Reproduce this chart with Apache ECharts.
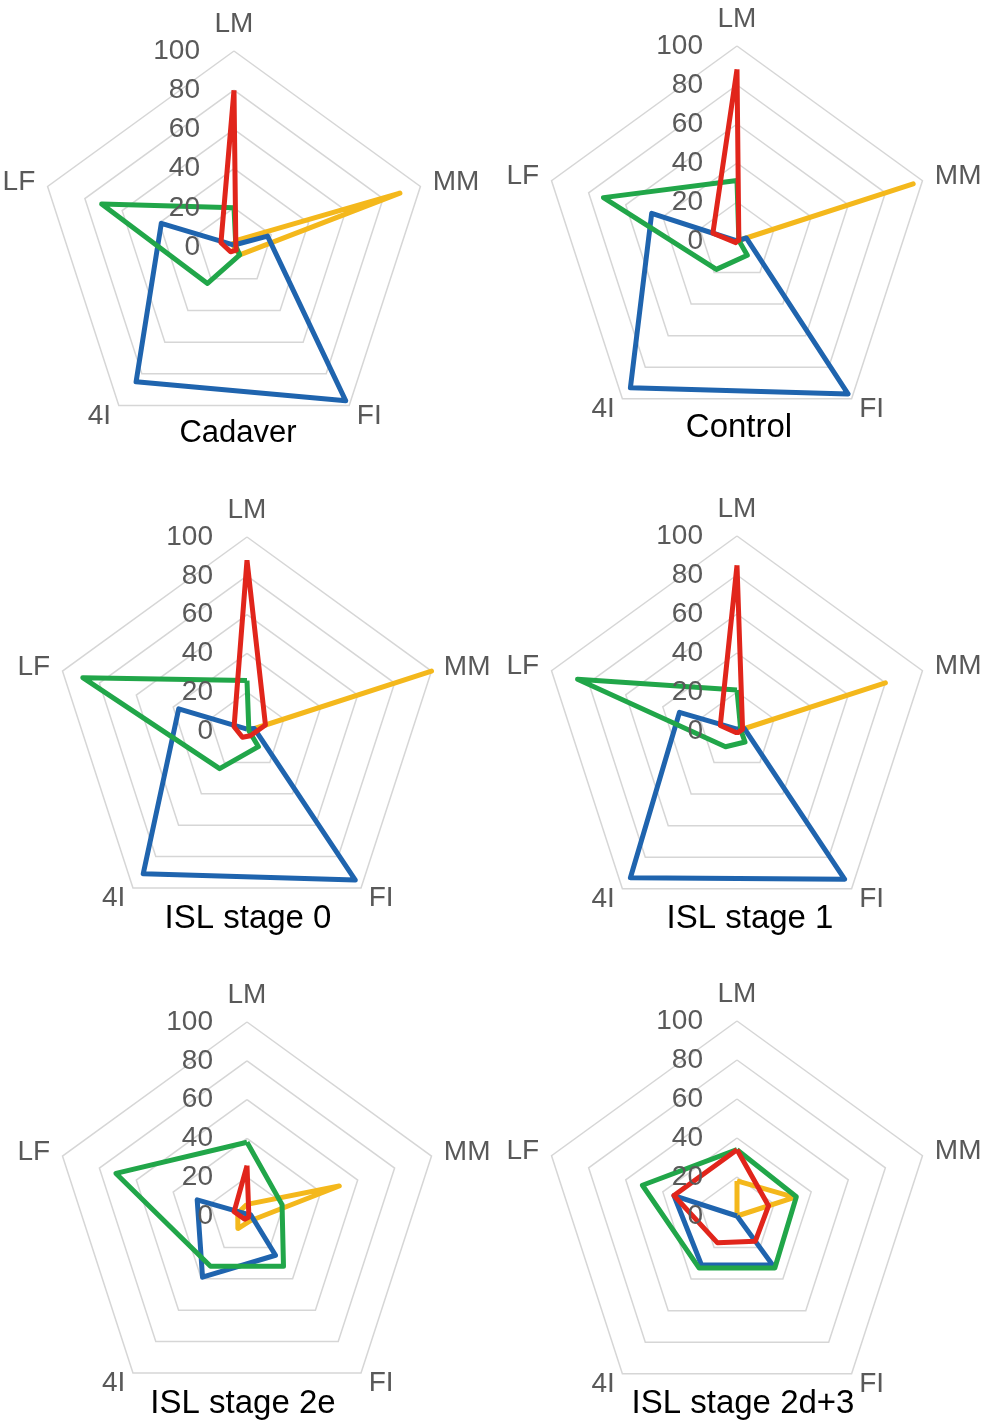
<!DOCTYPE html>
<html>
<head>
<meta charset="utf-8">
<script src="https://cdn.jsdelivr.net/npm/echarts@6/dist/echarts.min.js"></script>
<style>
html,body{margin:0;padding:0;background:#fff;}
#chart{width:983px;height:1424px;}
</style>
</head>
<body>
<div id="chart"></div>
<script>
// Indicator order (counter-clockwise from top, as ECharts lays them out)
const indicatorNames = ['LM', 'LF', '4I', 'FI', 'MM'];
const tickLabels = ['0', '20', '40', '60', '80', '100'];
const panelTitles = ['Cadaver', 'Control', 'ISL stage 0', 'ISL stage 1', 'ISL stage 2e', 'ISL stage 2d+3'];

// Values per panel, in indicator order [LM, LF, 4I, FI, MM]
const redValues = [
  [80, 7, 3, 2, 1],
  [88, 13, 1, 0, 1],
  [88, 7, 4, 3, 10],
  [85, 9, 1, 1, 3],
  [26, 7, 2, 1, 1],
  [34, 34, 17, 16, 17]
];
const yellowValues = [
  [3, 0, 0, 5, 89],
  [0, 0, 0, 0, 95],
  [0, 0, 0, 0, 100],
  [0, 0, 0, 0, 80],
  [6, 5, 8, 3, 50],
  [18, 0, 0, 0, 31]
];
const greenValues = [
  [20, 71, 23, 5, 1],
  [31, 72, 18, 9, 1],
  [26, 89, 24, 10, 1],
  [21, 86, 10, 7, 2],
  [38, 71, 32, 32, 19],
  [34, 51, 33, 33, 32]
];
const blueValues = [
  [1, 39, 85, 97, 18],
  [0, 46, 93, 97, 5],
  [1, 37, 91, 95, 4],
  [1, 31, 93, 94, 4],
  [1, 27, 39, 25, 2],
  [0, 34, 31, 31, 0]
];

const colors = { red: '#E1251B', yellow: '#F4B81C', green: '#21A649', blue: '#1F64AE' };

// Layout (pixels)
const centers = [[234, 247], [737, 241], [247, 731], [737, 731], [247, 1216], [737, 1216]];
const radii = [196, 195, 194, 195, 194, 195];
const titlePos = [[238, 433], [739, 428], [248, 919], [750, 919], [243, 1404], [743, 1404]];
const titleSizes = [31, 33, 33, 33, 33, 33];

const FONT = '"Liberation Sans", Arial, sans-serif';
const GREY = '#595959';

// Radars that carry rings, names and the data
const baseRadars = centers.map((c, i) => ({
  center: c,
  radius: radii[i],
  startAngle: 90,
  shape: 'polygon',
  splitNumber: 5,
  z: 1,
  axisName: { color: GREY, fontSize: 28, fontFamily: FONT },
  nameGap: 13,
  splitLine: { lineStyle: { color: '#d6d6d6', width: 1.5 } },
  splitArea: { show: false },
  axisLine: { show: false },
  axisTick: { show: false },
  axisLabel: { show: false },
  indicator: indicatorNames.map(n => ({ name: n, min: 0, max: 100 }))
}));

// Overlay radars that only draw the LM tick labels above the lines
const labelRadars = centers.map((c, i) => ({
  center: c,
  radius: radii[i],
  startAngle: 90,
  shape: 'polygon',
  splitNumber: 5,
  z: 10,
  axisName: { show: false },
  splitLine: { show: false },
  splitArea: { show: false },
  axisLine: { show: false },
  axisTick: { show: false },
  axisLabel: { show: false },
  indicator: indicatorNames.map((n, k) => {
    const ind = { name: n, min: 0, max: 100 };
    if (k === 0) {
      ind.axisLabel = {
        show: true, color: GREY, fontSize: 28, fontFamily: FONT, margin: 34,
        formatter: v => tickLabels[Math.round(v / 20)]
      };
    }
    return ind;
  })
}));

function item(vals, color, name) {
  return {
    name: name,
    value: vals,
    symbol: 'none',
    lineStyle: { color: color, width: 5 },
    itemStyle: { color: color }
  };
}

const series = centers.map((c, i) => ({
  type: 'radar',
  radarIndex: i,
  silent: true,
  z: 2,
  data: [
    item(yellowValues[i], colors.yellow, 'yellow'),
    item(blueValues[i], colors.blue, 'blue'),
    item(greenValues[i], colors.green, 'green'),
    item(redValues[i], colors.red, 'red')
  ]
}));

const titles = panelTitles.map((t, i) => ({
  text: t,
  left: titlePos[i][0],
  top: titlePos[i][1],
  padding: 0,
  textAlign: 'center',
  textVerticalAlign: 'middle',
  textStyle: { color: '#000', fontSize: titleSizes[i], fontWeight: 'normal', fontFamily: FONT }
}));

const chart = echarts.init(document.getElementById('chart'), null, { renderer: 'canvas' });
chart.setOption({
  animation: false,
  backgroundColor: '#fff',
  title: titles,
  radar: baseRadars.concat(labelRadars),
  series: series
});
</script>
</body>
</html>
